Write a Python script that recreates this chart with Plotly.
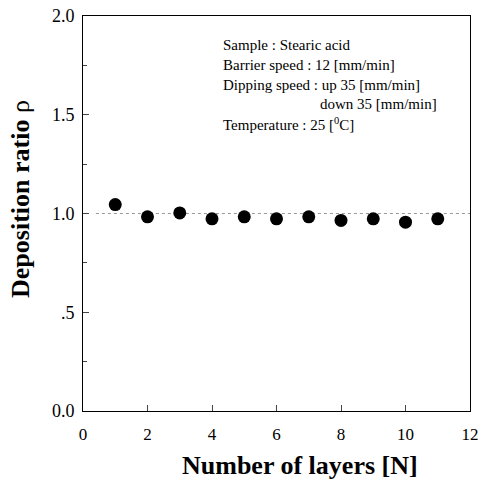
import plotly.graph_objects as go

layers = [1, 2, 3, 4, 5, 6, 7, 8, 9, 10, 11]
ratio = [1.045, 0.983, 1.003, 0.973, 0.983, 0.973, 0.983, 0.965, 0.973, 0.956, 0.973]
x_ticks = [0, 2, 4, 6, 8, 10, 12]
y_tickvals = [0, 0.5, 1.0, 1.5, 2.0]
y_ticktext = ["0.0", ".5", "1.0", "1.5", "2.0"]
info_lines = [
    "Sample : Stearic acid",
    "Barrier speed : 12 [mm/min]",
    "Dipping speed : up 35 [mm/min]",
    "down 35 [mm/min]",
    "Temperature : 25 [<sup>0</sup>C]",
]
info_x = [0.357, 0.357, 0.357, 0.607, 0.357]
info_y = [0.927, 0.876, 0.825, 0.777, 0.727]

serif = "Liberation Serif, Times New Roman, serif"

fig = go.Figure()
fig.add_trace(go.Scatter(
    x=[0.4, 12], y=[1.0, 1.0], mode="lines",
    line=dict(color="#999", width=1, dash="dot"), showlegend=False, hoverinfo="skip"))
fig.add_trace(go.Scatter(
    x=layers, y=ratio, mode="markers",
    marker=dict(color="black", size=13), showlegend=False))

fig.update_layout(
    width=478, height=481,
    margin=dict(l=83, r=8, t=16, b=70, autoexpand=False),
    paper_bgcolor="white", plot_bgcolor="white",
    font=dict(family=serif, color="black"),
    xaxis=dict(range=[0, 12], tickvals=x_ticks, ticks="inside", ticklen=6,
               ticklabeloverflow="allow", ticklabelstandoff=8,
               showline=True, linecolor="black", linewidth=1, mirror=True,
               showgrid=False, zeroline=False, tickfont=dict(size=17)),
    yaxis=dict(range=[0, 2.0], tickvals=y_tickvals, ticktext=y_ticktext,
               ticks="inside", ticklen=6, ticklabelstandoff=4,
               minor=dict(tickvals=[0.25, 0.75, 1.25, 1.75], ticks="inside", ticklen=4),
               showline=True, linecolor="black", linewidth=1, mirror=True,
               showgrid=False, zeroline=False, tickfont=dict(size=18)),
)

fig.add_annotation(text="<b>Number of layers [N]</b>", xref="paper", yref="paper",
                   x=0.561, y=-0.137, xanchor="center", yanchor="middle",
                   showarrow=False, font=dict(size=26, family=serif))
fig.add_annotation(text="<b>Deposition ratio </b>ρ", xref="paper", yref="paper",
                   x=-0.160, y=0.537, xanchor="center", yanchor="middle", textangle=-90,
                   showarrow=False, font=dict(size=26, family=serif))
for txt, xx, yy in zip(info_lines, info_x, info_y):
    fig.add_annotation(text=txt, xref="paper", yref="paper",
                       x=xx, y=yy, xanchor="left", yanchor="middle", align="left",
                       showarrow=False, font=dict(size=15, family=serif))

fig.write_html("out.html", config={"displayModeBar": False},
               post_script="document.body.style.margin='0';document.body.style.overflow='hidden';")
